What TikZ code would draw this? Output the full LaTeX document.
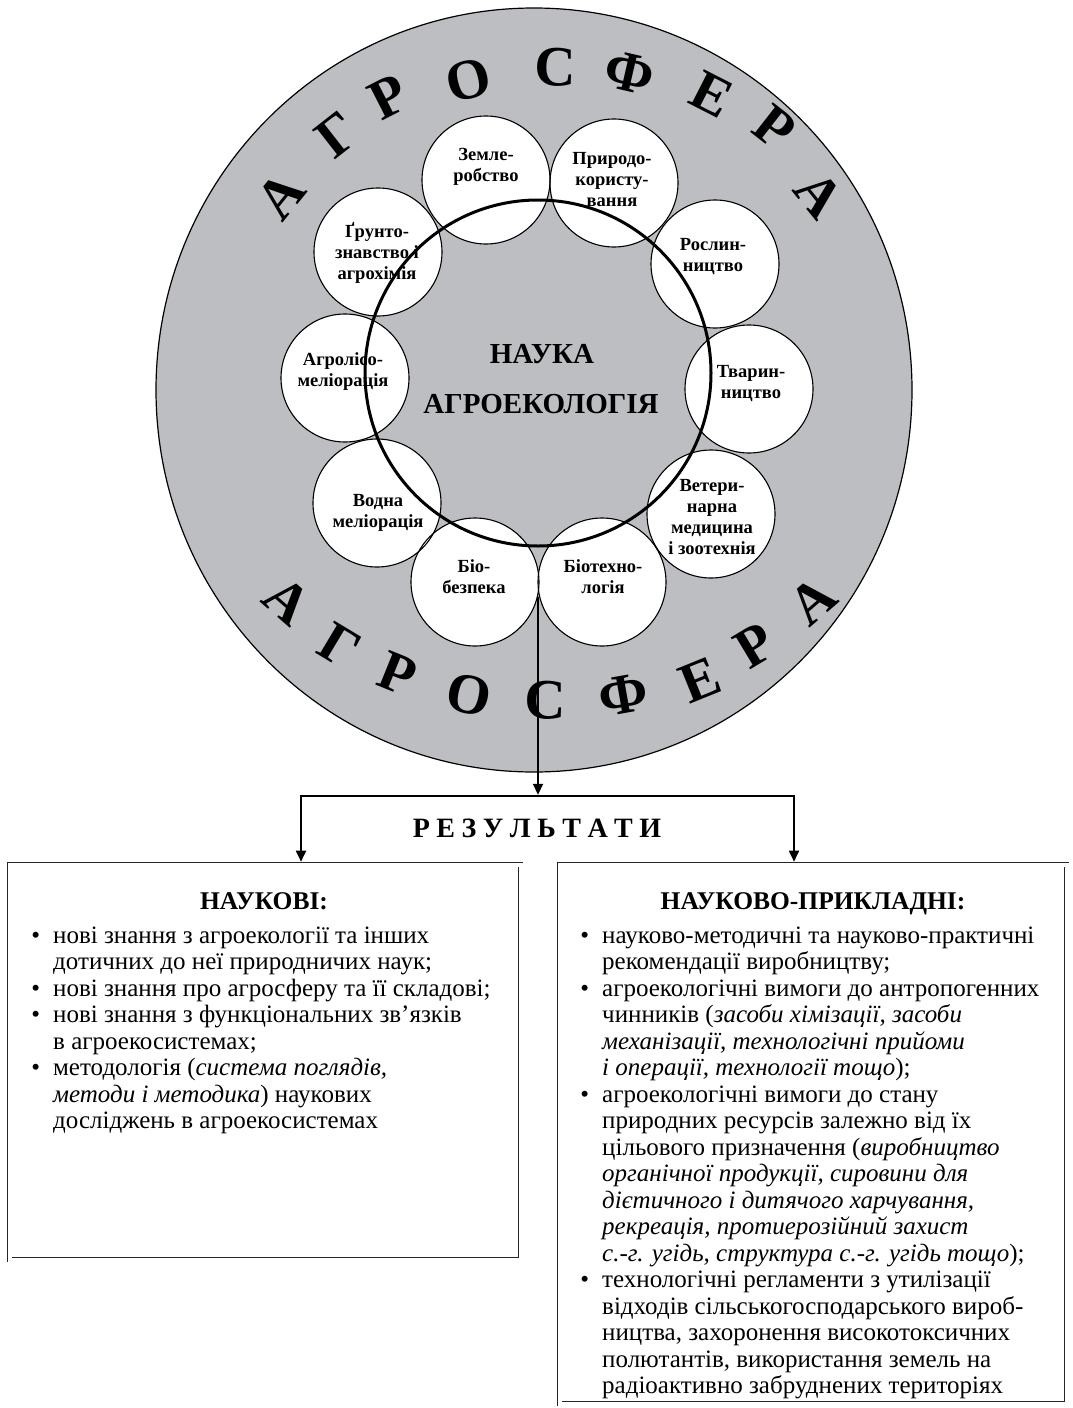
\documentclass[tikz,border=0pt]{standalone}
\usepackage{fontspec}
\setmainfont{Liberation Serif}
\usetikzlibrary{arrows.meta}
\definecolor{sphere}{RGB}{189,190,193}
\begin{document}
\begin{tikzpicture}[x=1pt,y=-1pt,
  bigletter/.style={inner sep=0pt, font=\fontsize{57}{57}\selectfont\bfseries},
  ringnode/.style={circle, draw=black, line width=1.1pt, minimum size=128pt, inner sep=0pt},
  lbltext/.style={align=center, inner sep=0pt, font=\fontsize{18.5}{21}\selectfont\bfseries},
  centretext/.style={anchor=base, inner sep=0pt, font=\fontsize{29}{29}\selectfont\bfseries},
  bodyline/.style={anchor=base west, inner sep=0pt, font=\fontsize{25}{26.5}\selectfont},
  boxhead/.style={anchor=base, inner sep=0pt, font=\fontsize{25.5}{25.5}\selectfont\bfseries},
  resbox/.style={draw=black!85, double, double distance=4pt, line width=0.8pt, inner sep=0pt},
  conn/.style={line width=1.8pt, -{Triangle[length=11pt,width=10pt]}},
]
\useasboundingbox (0,0) rectangle (1073,1408);
% agrosphere
\draw[fill=sphere, line width=1.2pt] (534,390) ellipse [x radius=378, y radius=382];
% top letters
\node[bigletter, rotate=51]  (t1) at (281,196) {А};
\node[bigletter, rotate=38]  (t2) at (337,135) {Г};
\node[bigletter, rotate=27]  (t3) at (389,97)  {Р};
\node[bigletter, rotate=14]  (t4) at (469,80)  {О};
\node[bigletter, rotate=-1]  (t5) at (555,67)  {С};
\node[bigletter, rotate=-13] (t6) at (630,73)  {Ф};
\node[bigletter, rotate=-27] (t7) at (712,95)  {Е};
\node[bigletter, rotate=-38] (t8) at (775,128) {Р};
\node[bigletter, rotate=-51] (t9) at (819,195) {А};
% bottom letters
\node[bigletter, rotate=-41] (b1) at (287,601) {А};
\node[bigletter, rotate=-31] (b2) at (340,646) {Г};
\node[bigletter, rotate=-22] (b3) at (398,674) {Р};
\node[bigletter, rotate=-12] (b4) at (469,695) {О};
\node[bigletter, rotate=-1]  (b5) at (545,700) {С};
\node[bigletter, rotate=10]  (b6) at (623,695) {Ф};
\node[bigletter, rotate=22]  (b7) at (700,680) {Е};
\node[bigletter, rotate=31]  (b8) at (755,646) {Р};
\node[bigletter, rotate=41]  (b9) at (813,601) {А};
% white discs
\foreach \p in {(486,180),(614,183),(715,264),(749,389),(711,514),(602,582),(475,582),(377,503),(345,378),(378,252)}
  \fill[white] \p circle (64);
% outlines
\node[ringnode] (c1)  at (486,180) {};
\node[ringnode] (c2)  at (614,183) {};
\node[ringnode] (c3)  at (715,264) {};
\node[ringnode] (c4)  at (749,389) {};
\node[ringnode] (c5)  at (711,514) {};
\node[ringnode] (c6)  at (602,582) {};
\node[ringnode] (c7)  at (475,582) {};
\node[ringnode] (c8)  at (377,503) {};
\node[ringnode] (c9)  at (345,378) {};
\node[ringnode] (c10) at (378,252) {};
% labels
\node[lbltext] (n1)  at (486,167) {Земле-\\робство};
\node[lbltext] (n2)  at (612,180) {Природо-\\користу-\\вання};
\node[lbltext] (n3)  at (713,257) {Рослин-\\ництво};
\node[lbltext] (n4)  at (751,384) {Тварин-\\ництво};
\node[lbltext] (n5)  at (712,517) {Ветери-\\нарна\\медицина\\і зоотехнія};
\node[lbltext] (n6)  at (603,577) {Біотехно-\\логія};
\node[lbltext] (n7)  at (474,577) {Біо-\\безпека};
\node[lbltext] (n8)  at (378,513) {Водна\\меліорація};
\node[lbltext] (n9)  at (343,372) {Агролісо-\\меліорація};
\node[lbltext] (n10) at (377,253) {Ґрунто-\\знавство і\\агрохімія};
% science circle
\draw[line width=3pt] (538,373) circle (173);
\node[centretext] (s1) at (542,363) {НАУКА};
\node[centretext] (s2) at (541,413) {АГРОЕКОЛОГІЯ};
% results
\coordinate (src) at (538,597);
\coordinate (barC) at (538,796);
\coordinate (barL) at (301,796);
\coordinate (barR) at (794,796);
\node[resbox, minimum width=511pt, minimum height=395pt] (lbox) at (265,1062) {};
\node[resbox, minimum width=507pt, minimum height=539pt] (rbox) at (813,1134) {};
\draw[conn, shorten >=1.2pt] (src) -- (barC);
\draw[line width=2.5pt, line cap=rect] (barL) -- (barR);
\draw[conn, shorten >=2.4pt] (barL) -- (barL |- lbox.north);
\draw[conn, shorten >=2.4pt] (barR) -- (barR |- rbox.north);
\node[inner sep=0pt, font=\fontsize{28}{28}\selectfont\bfseries] (res) at (537,828)
  {Р\kern6.5ptЕ\kern6.5ptЗ\kern6.5ptУ\kern6.5ptЛ\kern6.5ptЬ\kern6.5ptТ\kern6.5ptА\kern6.5ptТ\kern6.5ptИ};
% left box
\node[boxhead] (lh) at (264,909) {НАУКОВІ:};
\node[bodyline] (l1) at (53,943)    {\llap{\textbullet\hspace{13pt}}нові знання з агроекології та інших};
\node[bodyline] (l2) at (53,969.5)  {дотичних до неї природничих наук;};
\node[bodyline] (l3) at (53,996)    {\llap{\textbullet\hspace{13pt}}нові знання про агросферу та її складові;};
\node[bodyline] (l4) at (53,1022.5) {\llap{\textbullet\hspace{13pt}}нові знання з функціональних зв’язків};
\node[bodyline] (l5) at (53,1049)   {в агроекосистемах;};
\node[bodyline] (l6) at (53,1075.5) {\llap{\textbullet\hspace{13pt}}методологія (\textit{система поглядів,}};
\node[bodyline] (l7) at (53,1102)   {\textit{методи і методика}) наукових};
\node[bodyline] (l8) at (53,1128.5) {досліджень в агроекосистемах};
% right box
\node[boxhead] (rh) at (813,909) {НАУКОВО-ПРИКЛАДНІ:};
\node[bodyline] (r1)  at (602,943)    {\llap{\textbullet\hspace{13pt}}науково-методичні та науково-практичні};
\node[bodyline] (r2)  at (602,969.5)  {рекомендації виробництву;};
\node[bodyline] (r3)  at (602,996)    {\llap{\textbullet\hspace{13pt}}агроекологічні вимоги до антропогенних};
\node[bodyline] (r4)  at (602,1022.5) {чинників (\textit{засоби хімізації, засоби}};
\node[bodyline] (r5)  at (602,1049)   {\textit{механізації, технологічні прийоми}};
\node[bodyline] (r6)  at (602,1075.5) {\textit{і операції, технології тощо});};
\node[bodyline] (r7)  at (602,1102)   {\llap{\textbullet\hspace{13pt}}агроекологічні вимоги до стану};
\node[bodyline] (r8)  at (602,1128.5) {природних ресурсів залежно від їх};
\node[bodyline] (r9)  at (602,1155)   {цільового призначення (\textit{виробництво}};
\node[bodyline] (r10) at (602,1181.5) {\textit{органічної продукції, сировини для}};
\node[bodyline] (r11) at (602,1208)   {\textit{дієтичного і дитячого харчування,}};
\node[bodyline] (r12) at (602,1234.5) {\textit{рекреація, протиерозійний захист}};
\node[bodyline] (r13) at (602,1261)   {\textit{с.-г. угідь, структура с.-г. угідь тощо});};
\node[bodyline] (r14) at (602,1287.5) {\llap{\textbullet\hspace{13pt}}технологічні регламенти з утилізації};
\node[bodyline] (r15) at (602,1314)   {відходів сільськогосподарського вироб-};
\node[bodyline] (r16) at (602,1340.5) {ництва, захоронення високотоксичних};
\node[bodyline] (r17) at (602,1367)   {полютантів, використання земель на};
\node[bodyline] (r18) at (602,1393.5) {радіоактивно забруднених територіях};
\end{tikzpicture}
\end{document}
